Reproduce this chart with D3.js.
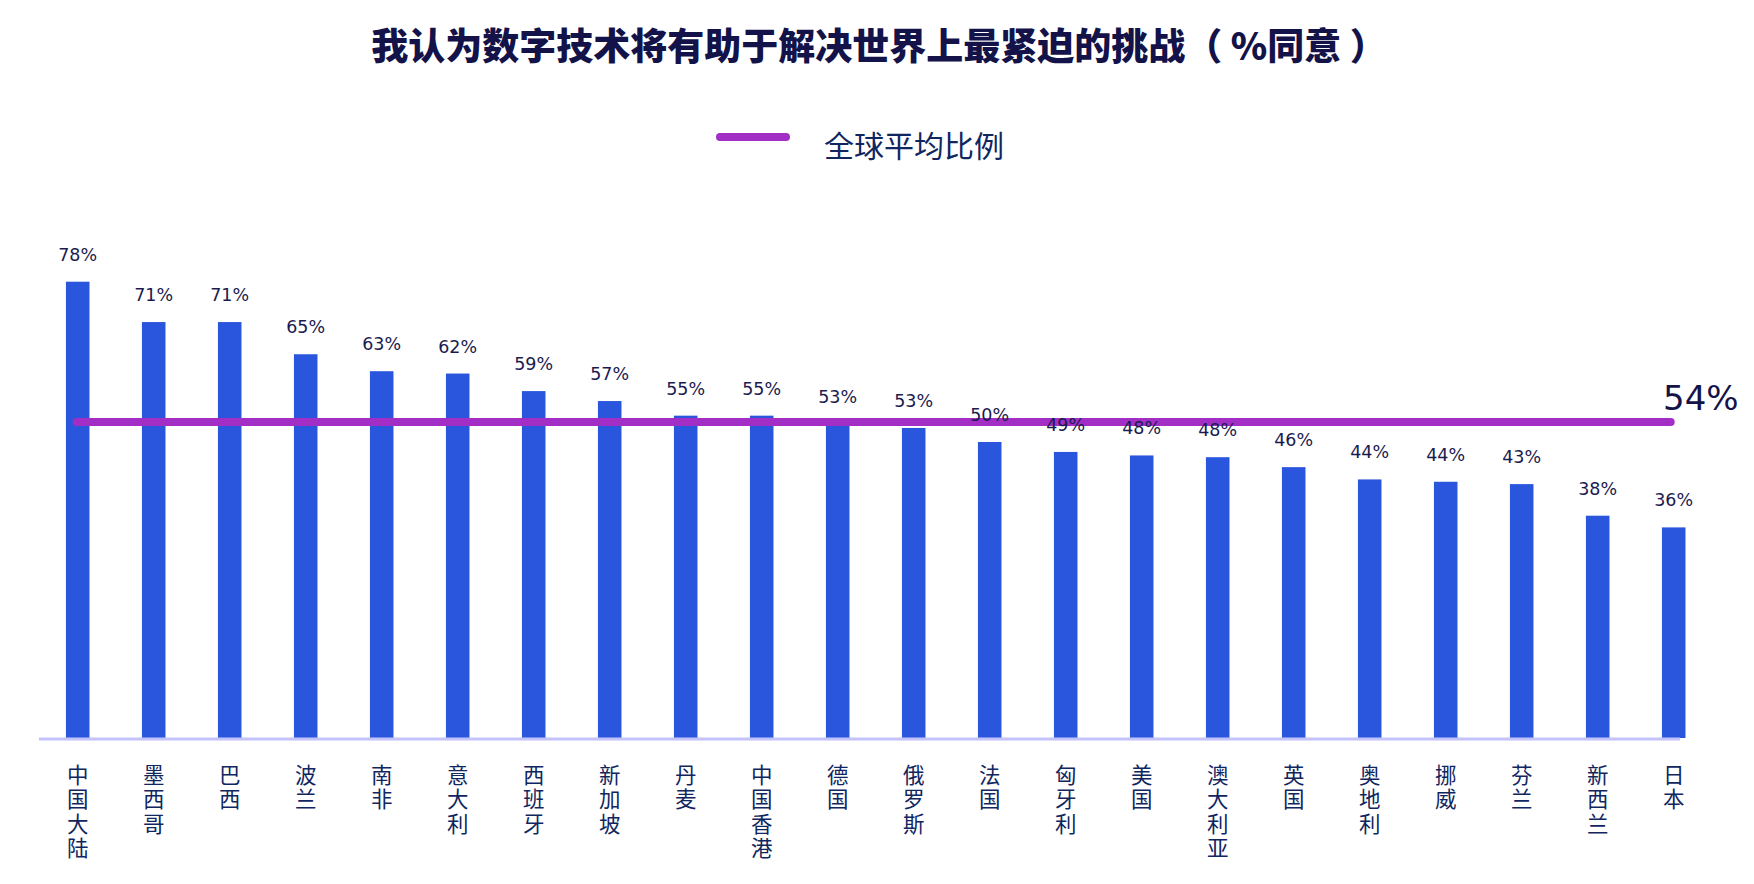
<!DOCTYPE html>
<html>
<head>
<meta charset="utf-8">
<script src="https://cdn.jsdelivr.net/npm/d3@7"></script>
<style>
  body { margin: 0; background: #fff; }
  svg { display: block; }
</style>
</head>
<body>
<div class="container"></div>
<script>
const titleText = "我认为数字技术将有助于解决世界上最紧迫的挑战（ %同意 ）";
const legendLabel = "全球平均比例";
const countries = ["中国大陆", "墨西哥", "巴西", "波兰", "南非", "意大利", "西班牙", "新加坡", "丹麦", "中国香港", "德国",
  "俄罗斯", "法国", "匈牙利", "美国", "澳大利亚", "英国", "奥地利", "挪威", "芬兰", "新西兰", "日本"];
// bar heights (labels are the rounded figures printed above them)
const agreePct = [78, 71.1, 71.1, 65.6, 62.7, 62.3, 59.3, 57.6, 55.1, 55.1, 53.6, 53, 50.6, 48.9, 48.3, 48, 46.3, 44.2, 43.8, 43.4, 38, 36];
const pctLabels = ["78%", "71%", "71%", "65%", "63%", "62%", "59%", "57%", "55%", "55%", "53%", "53%", "50%", "49%", "48%", "48%", "46%", "44%", "44%", "43%", "38%", "36%"];
const globalAvg = 54;

const width = 1754;
const height = 884;
const baseY = 738;
const navy = "#10265f";
const cjk = "'Noto Sans CJK SC', 'Noto Sans', sans-serif";

const svg = d3.select(".container")
  .append("svg")
  .attr("width", width)
  .attr("height", height);

// Title
svg.append("text")
  .attr("x", 879)
  .attr("y", 60)
  .attr("text-anchor", "middle")
  .style("font-family", cjk)
  .style("font-weight", 900)
  .style("font-size", "37px")
  .style("fill", "#13134a")
  .text(titleText);

// Legend
svg.append("line")
  .attr("x1", 720).attr("x2", 786)
  .attr("y1", 137).attr("y2", 137)
  .attr("stroke", "#a22ec6")
  .attr("stroke-width", 8)
  .attr("stroke-linecap", "round");

svg.append("text")
  .attr("x", 824)
  .attr("y", 157)
  .style("font-family", cjk)
  .style("font-size", "30px")
  .style("fill", navy)
  .text(legendLabel);

// Scales
const xScale = d3.scaleBand()
  .domain(countries)
  .range([39.7, 39.7 + 76 * countries.length])
  .paddingInner(0.69)
  .paddingOuter(0.345);

const yScale = d3.scaleLinear()
  .domain([0, 100])
  .range([baseY, baseY - 585]);

const data = countries.map((c, i) => ({ country: c, value: agreePct[i], label: pctLabels[i] }));
const center = (c) => xScale(c) + xScale.bandwidth() / 2;

// Bars
svg.append("g")
  .selectAll("rect")
  .data(data)
  .enter()
  .append("rect")
  .attr("x", (d) => xScale(d.country))
  .attr("y", (d) => yScale(d.value))
  .attr("width", xScale.bandwidth())
  .attr("height", (d) => baseY - yScale(d.value))
  .attr("fill", "#2956dc");

// Baseline
svg.append("line")
  .attr("x1", 39).attr("x2", 1680)
  .attr("y1", baseY + 1).attr("y2", baseY + 1)
  .attr("stroke", "#c3c3fb")
  .attr("stroke-width", 3);

// Global average line
svg.append("line")
  .attr("x1", center(countries[0]) - 1)
  .attr("x2", center(countries[countries.length - 1]) - 3)
  .attr("y1", yScale(globalAvg))
  .attr("y2", yScale(globalAvg))
  .attr("stroke", "#a22ec6")
  .attr("stroke-width", 8)
  .attr("stroke-linecap", "round");

svg.append("text")
  .attr("x", 1663)
  .attr("y", 410)
  .style("font-family", "'DejaVu Sans', sans-serif")
  .style("font-size", "34px")
  .style("fill", "#13134a")
  .text(globalAvg + "%");

// Value labels (drawn over the average line)
svg.append("g")
  .selectAll("text")
  .data(data)
  .enter()
  .append("text")
  .attr("x", (d) => center(d.country))
  .attr("y", (d) => yScale(d.value) - 21)
  .attr("text-anchor", "middle")
  .style("font-family", "'DejaVu Sans', sans-serif")
  .style("font-size", "17.5px")
  .style("fill", "#1b1b4f")
  .text((d) => d.label);

// Category labels, one character per line
const chars = [];
data.forEach((d) => {
  Array.from(d.country).forEach((ch, i) => chars.push({ country: d.country, ch: ch, row: i }));
});

svg.append("g")
  .selectAll("text")
  .data(chars)
  .enter()
  .append("text")
  .attr("x", (d) => center(d.country))
  .attr("y", (d) => 783 + d.row * 24.3)
  .attr("text-anchor", "middle")
  .style("font-family", cjk)
  .style("font-size", "21.5px")
  .style("fill", navy)
  .text((d) => d.ch);
</script>
</body>
</html>
